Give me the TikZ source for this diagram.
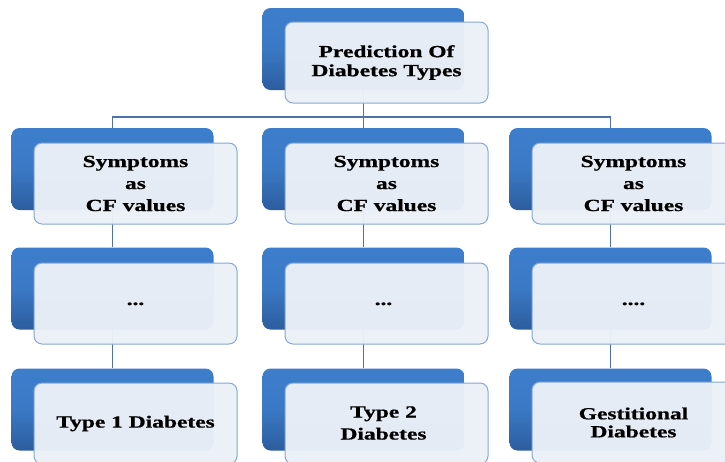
\documentclass[tikz,border=0pt]{standalone}
\usepackage{fontspec}
\newfontfamily\boxfont{Liberation Serif}[FakeStretch=1.38, BoldFeatures={FakeBold=0.8}]
\definecolor{bluetop}{HTML}{3D7ECC}
\definecolor{bluebot}{HTML}{2C5D9E}
\definecolor{paneline}{HTML}{86A8D6}
\definecolor{panefill}{HTML}{EBF0F7}
\definecolor{connline}{HTML}{4C74AB}
\tikzset{
  bluebox/.style={rectangle, rounded corners=8pt, minimum width=202pt, minimum height=82pt, inner sep=0pt,
    top color=bluetop, bottom color=bluebot, middle color=bluetop!85!bluebot},
  pane/.style={rectangle, rounded corners=8pt, minimum width=203pt, minimum height=81pt, inner sep=0pt,
    draw=paneline, line width=1pt, fill=panefill, fill opacity=0.97, text opacity=1, align=center,
    font=\boxfont\bfseries\fontsize{17}{22}\selectfont, text=black},
  lbl/.style={font=\boxfont\bfseries\fontsize{17}{22}\selectfont, text=black, align=center, inner sep=0pt},
  conn/.style={draw=connline, line width=1.3pt}
}
\begin{document}
\begin{tikzpicture}[x=1pt,y=-1pt]
\useasboundingbox (0,0) rectangle (725,461);
% blue back boxes
\node[bluebox] (tb) at (363.5,49) {};
\foreach \c/\x in {1/112.5,2/363.5,3/610.5}{
  \node[bluebox] (b1\c) at (\x,169) {};
  \node[bluebox] (b2\c) at (\x,288.5) {};
  \node[bluebox] (b3\c) at (\x,409.5) {};
}
% connectors
\coordinate (j) at (363.5,117);
\draw[conn] (tb.south) -- (j);
\draw[conn] (j) -| (b11.north);
\draw[conn] (j) -- (b12.north);
\draw[conn] (j) -| (b13.north);
\foreach \c in {1,2,3}{
  \draw[conn] (b1\c.south) -- (b2\c.north);
  \draw[conn] (b2\c.south) -- (b3\c.north);
}
% front panes
\node[pane, font=\boxfont\bfseries\fontsize{17}{19}\selectfont] (tp) at (386.5,62.5) {Prediction Of\\Diabetes Types};
\node[pane] (p11) at (135.5,183.5) {Symptoms\\as\\CF values};
\node[pane] (p12) at (386.5,183.5) {Symptoms\\as\\CF values};
\node[pane] (p13) at (633.5,183.5) {Symptoms\\as\\CF values};
\node[pane] (p21) at (135.5,303.5) {};
\node[pane] (p22) at (386.5,303.5) {};
\node[pane] (p23) at (633.5,303.5) {};
\node[lbl, anchor=base] (d21) at (135.5,305) {...};
\node[lbl, anchor=base] (d22) at (383.5,305) {...};
\node[lbl, anchor=base] (d23) at (633.5,305) {....};
\node[pane] (p31) at (135.5,423.5) {Type 1 Diabetes};
\node[pane] (p32) at (386.5,423.5) {};
\node[lbl] (t32) at (383.5,423) {Type 2\\Diabetes};
\node[pane, font=\boxfont\bfseries\fontsize{17}{18}\selectfont] (p33) at (633.5,422.5) {Gestitional\\Diabetes};
\end{tikzpicture}
\end{document}
